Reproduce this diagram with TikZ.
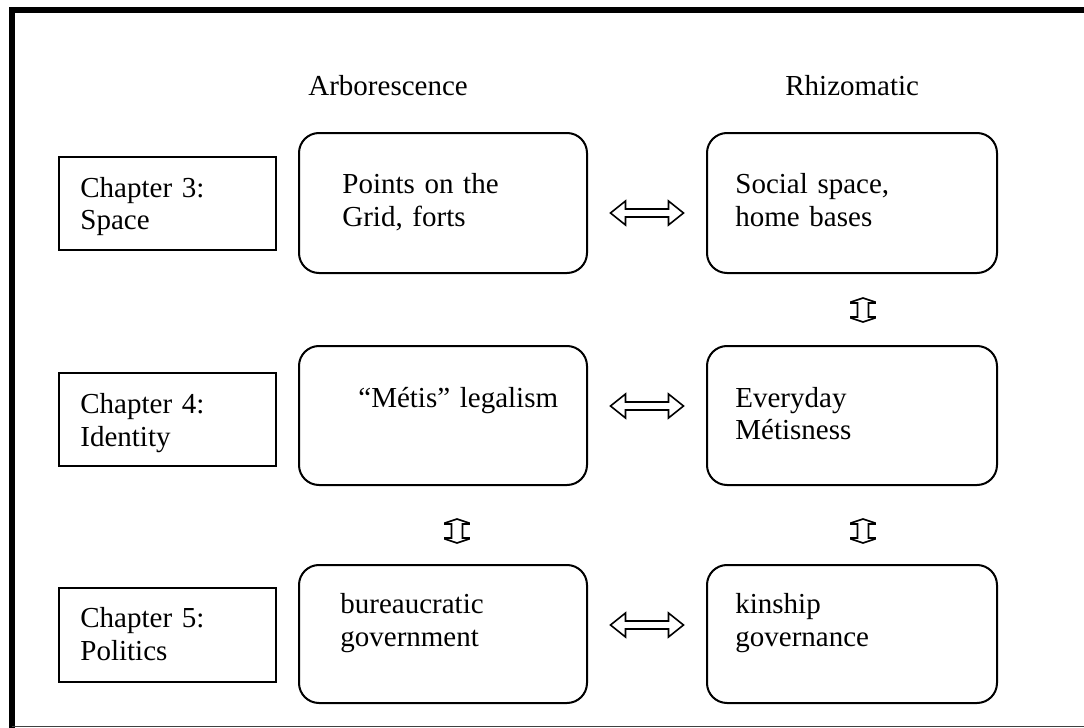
\documentclass[tikz,border=0pt]{standalone}
\usepackage{fontspec}
\setmainfont{Liberation Serif}
\usetikzlibrary{calc}
\begin{document}
\begin{tikzpicture}[x=0.5pt,y=-0.5pt,
  every node/.style={font=\fontsize{14.5pt}{16.5pt}\selectfont},
  chbox/.style={draw, line width=1pt, inner sep=0pt, outer sep=0pt, minimum width=108.5pt},
  rbox/.style={draw, line width=1pt, rounded corners=10pt, inner sep=0pt, outer sep=0pt, minimum height=69.5pt},
  lbl/.style={anchor=base west, inner sep=0pt, text width=160pt, align=left},
  blk/.style={draw, line width=0.8pt, line join=miter, fill=white}]
\useasboundingbox (0,0) rectangle (1084,728);
% frame
\draw[line width=3pt, line join=miter] (12,728) -- (12,10) -- (1084,10);
\draw[line width=0.9pt, black!75] (12,726.5) -- (1084,726.5);
% headers
\node[lbl] (hA) at (308,96) {Arborescence};
\node[lbl] (hR) at (785,96) {Rhizomatic};
% chapter boxes
\node[chbox, minimum height=46.5pt] (c3) at (167.5,203.5) {};
\node[chbox, minimum height=46.5pt] (c4) at (167.5,419.5) {};
\node[chbox, minimum height=47pt] (c5) at (167.5,635) {};
\node[lbl] (tc3) at (80,197) {Chapter 3:\\Space};
\node[lbl] (tc4) at (80,413) {Chapter 4:\\Identity};
\node[lbl] (tc5) at (80,627) {Chapter 5:\\Politics};
% rounded boxes
\node[rbox, minimum width=144pt, minimum height=70pt] (L1) at (443,203) {};
\node[rbox, minimum width=145pt, minimum height=70pt] (R1) at (852,203) {};
\node[rbox, minimum width=144pt] (L2) at (443,415.5) {};
\node[rbox, minimum width=145pt] (R2) at (852,415.5) {};
\node[rbox, minimum width=144pt, minimum height=69pt] (L3) at (443,634) {};
\node[rbox, minimum width=145pt, minimum height=69pt] (R3) at (852,634) {};
\node[lbl] (tL1) at (342,193) {Points on the\\Grid, forts};
\node[lbl] (tR1) at (735,193) {Social space,\\home bases};
\node[lbl] (tL2) at (358,407) {“Métis” legalism};
\node[lbl] (tR2) at (735,407) {Everyday\\Métisness};
\node[lbl] (tL3) at (340,613) {bureaucratic\\government};
\node[lbl] (tR3) at (735,613) {kinship\\governance};
% arrow positions
\coordinate (h1) at ($(L1.east |- 0,213)!0.5!(R1.west |- 0,213)$);
\coordinate (h2) at ($(L2.east |- 0,406)!0.5!(R2.west |- 0,406)$);
\coordinate (h3) at ($(L3.east |- 0,625)!0.5!(R3.west |- 0,625)$);
\coordinate (v1) at (863,310);
\coordinate (v2) at (457,531);
\coordinate (v3) at (863,531);
% horizontal double block arrows
\foreach \c in {h1,h2,h3}{
  \draw[blk, shift={(\c)}] (-36.5,0) -- (-21.5,-12) -- (-21.5,-4) -- (21.5,-4) -- (21.5,-12)
    -- (36.5,0) -- (21.5,12) -- (21.5,4) -- (-21.5,4) -- (-21.5,12) -- cycle;
}
% vertical double block arrows
\foreach \c in {v1,v2,v3}{
  \draw[blk, shift={(\c)}] (0,-12) -- (12,-8) -- (12,-7) -- (5.5,-7) -- (5.5,7) -- (12,7) -- (12,8)
    -- (0,12) -- (-12,8) -- (-12,7) -- (-5.5,7) -- (-5.5,-7) -- (-12,-7) -- (-12,-8) -- cycle;
}
\end{tikzpicture}
\end{document}
